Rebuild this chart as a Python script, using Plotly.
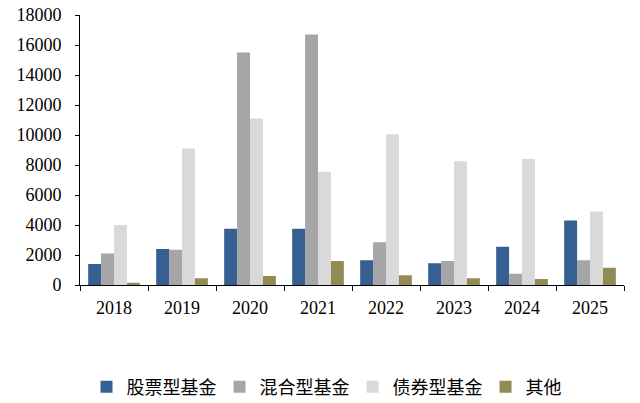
import plotly.graph_objects as go

years = ["2018", "2019", "2020", "2021", "2022", "2023", "2024", "2025"]
stock = [1400, 2400, 3750, 3750, 1650, 1450, 2550, 4300]
mixed = [2100, 2350, 15500, 16700, 2850, 1600, 750, 1650]
bond = [4000, 9100, 11100, 7550, 10050, 8250, 8400, 4900]
other = [150, 450, 600, 1600, 650, 450, 400, 1150]

names = ["股票型基金", "混合型基金", "债券型基金", "其他"]
colors = ["#376092", "#A6A6A6", "#D9D9D9", "#948A54"]
series = [stock, mixed, bond, other]

fig = go.Figure()
for n, c, v in zip(names, colors, series):
    fig.add_trace(go.Bar(x=years, y=v, name=n, marker=dict(color=c, line=dict(width=0))))

fig.update_layout(
    width=640, height=403,
    margin=dict(l=80, r=16, t=15, b=118, autoexpand=False),
    paper_bgcolor="white", plot_bgcolor="white",
    barmode="group", bargap=0.24, bargroupgap=0,
    font=dict(family="Liberation Serif, Noto Sans CJK SC", size=18, color="black"),
    legend=dict(orientation="h", x=0.012, xanchor="left",
                y=0.0397, yref="container", yanchor="middle",
                font=dict(family="Noto Sans CJK SC", size=18), itemwidth=30,
                entrywidth=88, entrywidthmode="pixels",
                tracegroupgap=0),
    showlegend=True,
)
fig.update_xaxes(showline=True, linecolor="black", linewidth=1, ticks="outside",
                 tickson="boundaries", ticklen=5, tickcolor="black", showgrid=False,
                 automargin=False, ticklabelstandoff=6,
                 tickfont=dict(family="Liberation Serif", size=18, color="black"))
fig.update_yaxes(range=[0, 18000], dtick=2000, tickformat="d", showline=True,
                 linecolor="black", linewidth=1, automargin=False,
                 ticks="outside", ticklen=4, tickcolor="black", showgrid=False, zeroline=False,
                 ticklabelstandoff=10, ticklabeloverflow="allow",
                 tickfont=dict(family="Liberation Serif", size=18, color="black"))

fig.write_html("out.html", config={"displayModeBar": False},
               post_script="document.body.style.margin='0';")
